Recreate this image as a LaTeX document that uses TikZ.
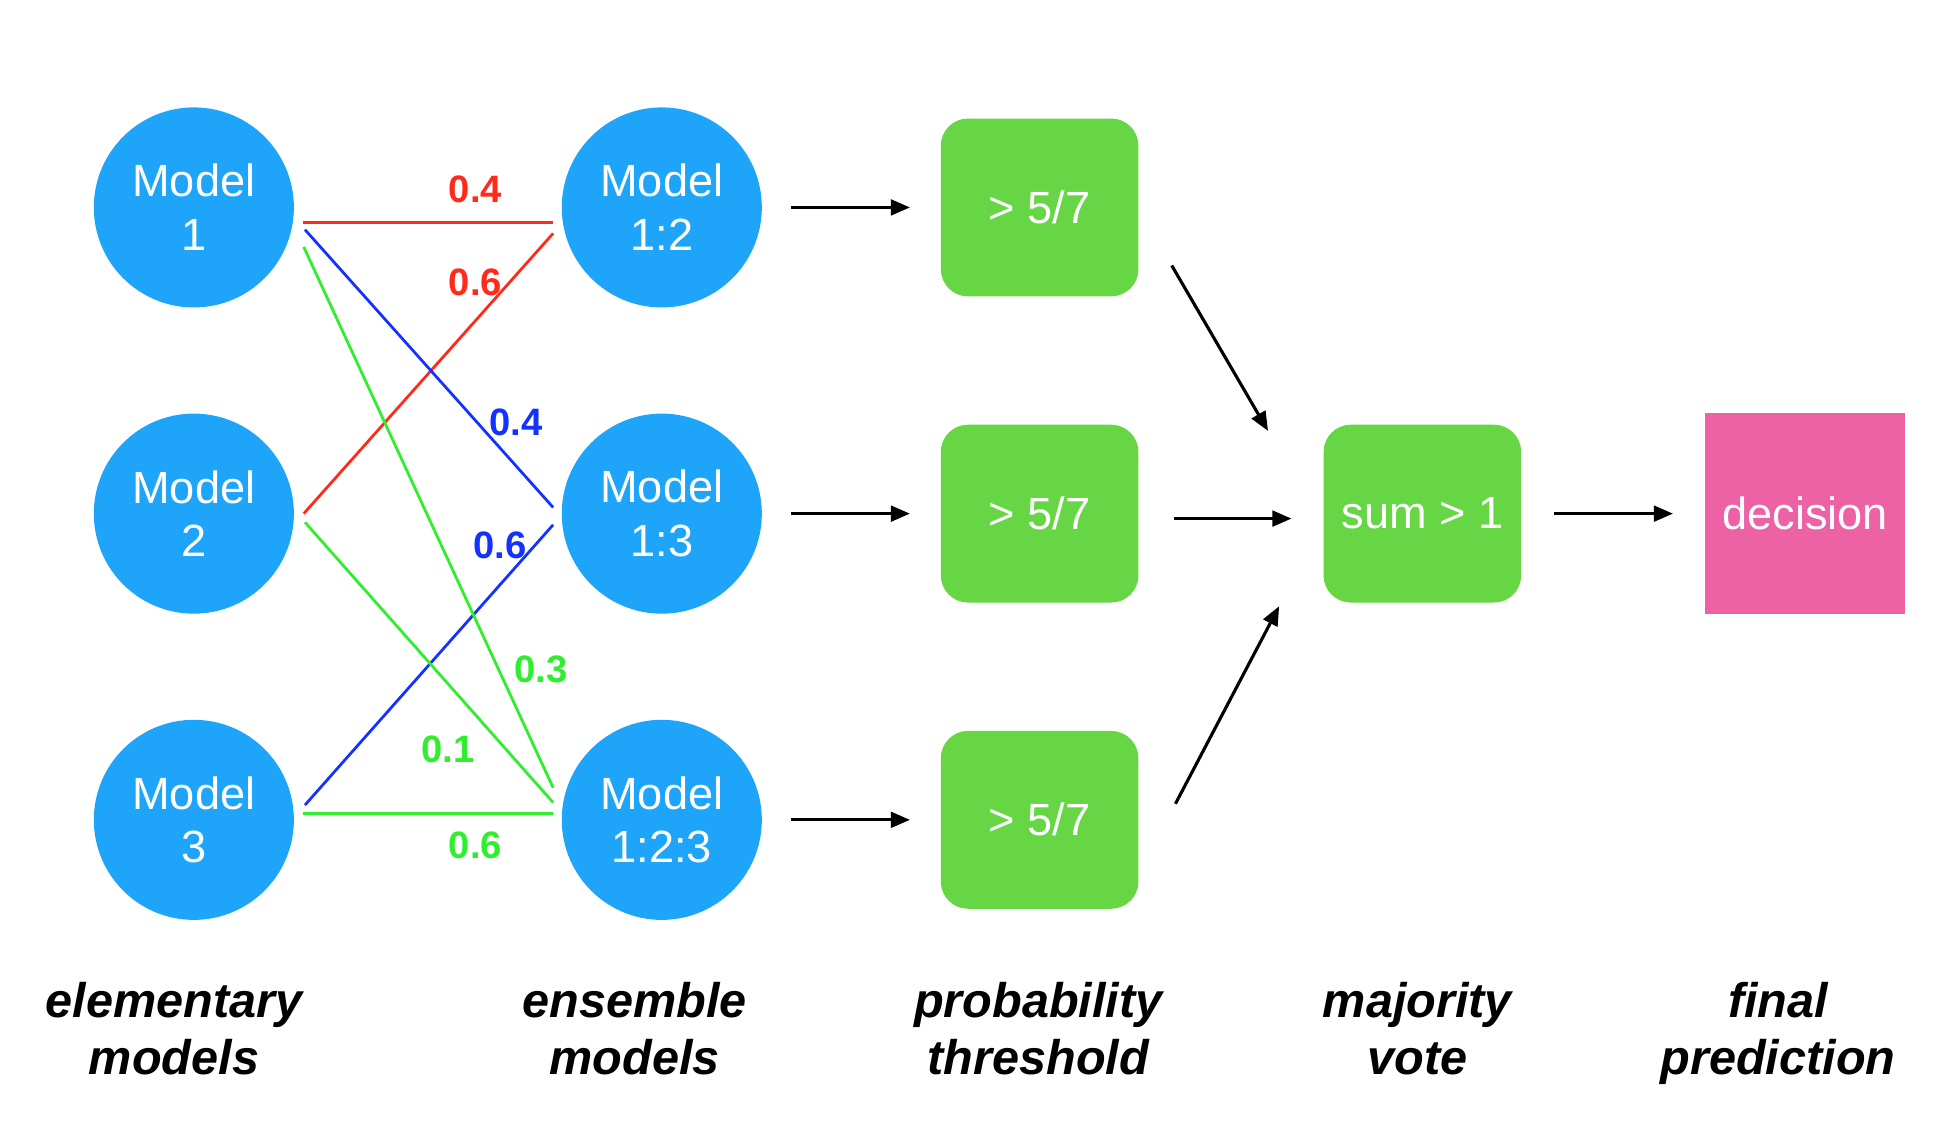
\documentclass[tikz,border=0pt]{standalone}
\usepackage{fontspec}
\setmainfont{Liberation Sans}
\usetikzlibrary{calc, arrows.meta}

\definecolor{modelblue}{HTML}{1EA5FA}
\definecolor{gategreen}{HTML}{66D645}
\definecolor{decpink}{HTML}{EC62A5}
\definecolor{wred}{HTML}{FF2A1A}
\definecolor{wblue}{HTML}{1432FF}
\definecolor{wgreen}{HTML}{2EEE2E}

\begin{document}
\begin{tikzpicture}[x=0.025cm, y=-0.025cm,
  model/.style={circle, fill=modelblue, text=white, minimum size=4.05cm, inner sep=0pt,
    align=center, font=\fontsize{26}{31}\selectfont},
  gate/.style={rounded corners=0.55cm, fill=gategreen, text=white, minimum width=4cm,
    minimum height=3.6cm, font=\fontsize{26}{31}\selectfont},
  weight/.style={line width=1.6pt},
  wlabel/.style={font=\fontsize{22}{26}\selectfont\bfseries},
  arr/.style={line width=1.8pt, -{Triangle[length=11pt, width=9pt]}},
  caption/.style={align=center, font=\fontsize{28}{33}\selectfont\bfseries\itshape}]

  \useasboundingbox (0,0) rectangle (1568,910);

  % elementary models
  \node[model] (m1) at (157,168) {Model\\1};
  \node[model] (m2) at (157,416) {Model\\2};
  \node[model] (m3) at (157,664) {Model\\3};

  % ensemble models
  \node[model] (e12) at (536,168) {Model\\1:2};
  \node[model] (e13) at (536,416) {Model\\1:3};
  \node[model] (e123) at (536,664) {Model\\1:2:3};

  % thresholds
  \node[gate] (t1) at (842,168) {> 5/7};
  \node[gate] (t2) at (842,416) {> 5/7};
  \node[gate] (t3) at (842,664) {> 5/7};

  \node[gate] (vote) at (1152,416) {sum > 1};
  \node[fill=decpink, text=white, minimum width=4.05cm, minimum height=4.06cm,
    font=\fontsize{26}{31}\selectfont] (dec) at (1462,416) {decision};

  % weights
  \draw[weight, wred] ($(m1)+(88,12)$) -- ($(e12)+(-88,12)$);
  \draw[weight, wred] ($(m2)+(89,0)$) -- ($(e12)+(-88,21)$);
  \draw[weight, wblue] ($(m1)+(90,18)$) -- ($(e13)+(-88,-5)$);
  \draw[weight, wblue] ($(m3)+(90,-12)$) -- ($(e13)+(-88,9)$);
  \draw[weight, wgreen] ($(m1)+(89,32)$) -- ($(e123)+(-88,-26)$);
  \draw[weight, wgreen] ($(m2)+(90,7)$) -- ($(e123)+(-88,-14)$);
  \draw[weight, wgreen] ($(m3)+(88,-5)$) -- ($(e123)+(-88,-5)$);

  \node[wlabel, text=wred] (w1) at (385,153) {0.4};
  \node[wlabel, text=wred] (w2) at (385,229) {0.6};
  \node[wlabel, text=wblue] (w3) at (418,342) {0.4};
  \node[wlabel, text=wblue] (w4) at (405,442) {0.6};
  \node[wlabel, text=wgreen] (w5) at (438,542) {0.3};
  \node[wlabel, text=wgreen] (w6) at (363,607) {0.1};
  \node[wlabel, text=wgreen] (w7) at (385,685) {0.6};

  % arrows
  \draw[arr] ($(e12)+(105,0)$) -- ($(t1)+(-105,0)$);
  \draw[arr] ($(e13)+(105,0)$) -- ($(t2)+(-105,0)$);
  \draw[arr] ($(e123)+(105,0)$) -- ($(t3)+(-105,0)$);

  \draw[arr] ($(t1)+(107,47)$) -- ($(vote)+(-125,-67)$);
  \draw[arr] ($(t2)+(109,4)$) -- ($(vote)+(-106,4)$);
  \draw[arr] ($(t3)+(110,-13)$) -- ($(vote)+(-116,75)$);
  \draw[arr] ($(vote)+(107,0)$) -- ($(dec)+(-107,0)$);

  % captions
  \node[caption] (c1) at (141,838) {\strut elementary\\\strut models};
  \node[caption] (c2) at (514,838) {\strut ensemble\\\strut models};
  \node[caption] (c3) at (841,838) {\strut probability\\\strut threshold};
  \node[caption] (c4) at (1148,838) {\strut majority\\\strut vote};
  \node[caption] (c5) at (1440,838) {\strut final\\\strut prediction};
\end{tikzpicture}
\end{document}
